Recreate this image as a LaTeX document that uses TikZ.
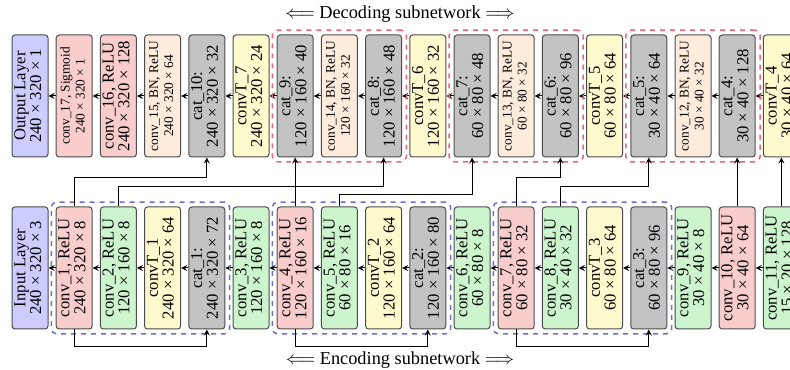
\documentclass[tikz,border=0pt]{standalone}
\usepackage{fontspec}
\setmainfont{Liberation Serif}
\usepackage{graphicx}
\usetikzlibrary{fit}

\definecolor{cIn}{RGB}{204,204,255}
\definecolor{cRelu}{RGB}{250,205,205}
\definecolor{cConv}{RGB}{205,245,205}
\definecolor{cUp}{RGB}{255,250,205}
\definecolor{cCat}{RGB}{195,195,195}
\definecolor{cBn}{RGB}{253,235,220}
\definecolor{cEnc}{RGB}{110,110,210}
\definecolor{cDec}{RGB}{235,100,120}

\newcommand{\lyrfont}{\fontsize{10}{9.5}\selectfont}
\newcommand{\lyrsmall}{\fontsize{8}{9}\selectfont}
\newcommand{\lyr}[2]{\rotatebox{90}{\begin{tabular}{@{}c@{}}#1\\#2\end{tabular}}}

\begin{document}
\begin{tikzpicture}[x=0.6pt,y=0.6pt,>=stealth,
  layer/.style={draw=black!70,line width=0.6pt,rounded corners=1.8pt,
    minimum width=21.6pt,minimum height=73.2pt,inner sep=0pt},
  link/.style={->,line width=0.6pt},
  encgrp/.style={draw=cEnc,dashed,line width=0.9pt,rounded corners=3pt,inner sep=2.6pt},
  decgrp/.style={draw=cDec,dashed,line width=0.9pt,rounded corners=3pt,inner sep=2.6pt}]
  \path[use as bounding box,clip] (0,0) rectangle (790,370);

  % decoding row (top), read right to left
  \foreach \i/\col/\fn/\ta/\tb in {
    0/cIn/\lyrfont/{Output Layer}/{240 × 320 × 1},
    1/cRelu/\lyrsmall/{conv\_17, Sigmoid}/{240 × 320 × 1},
    2/cRelu/\lyrfont/{conv\_16, ReLU}/{240 × 320 × 128},
    3/cBn/\lyrsmall/{conv\_15, BN, ReLU}/{240 × 320 × 64},
    4/cCat/\lyrfont/{cat\_10:}/{240 × 320 × 32},
    5/cUp/\lyrfont/{convT\_7}/{240 × 320 × 24},
    6/cCat/\lyrfont/{cat\_9:}/{120 × 160 × 40},
    7/cBn/\lyrsmall/{conv\_14, BN, ReLU}/{120 × 160 × 32},
    8/cCat/\lyrfont/{cat\_8:}/{120 × 160 × 48},
    9/cUp/\lyrfont/{convT\_6}/{120 × 160 × 32},
    10/cCat/\lyrfont/{cat\_7:}/{60 × 80 × 48},
    11/cBn/\lyrsmall/{conv\_13, BN, ReLU}/{60 × 80 × 32},
    12/cCat/\lyrfont/{cat\_6:}/{60 × 80 × 96},
    13/cUp/\lyrfont/{convT\_5}/{60 × 80 × 64},
    14/cCat/\lyrfont/{cat\_5:}/{30 × 40 × 64},
    15/cBn/\lyrsmall/{conv\_12, BN, ReLU}/{30 × 40 × 32},
    16/cCat/\lyrfont/{cat\_4:}/{30 × 40 × 128},
    17/cUp/\lyrfont/{convT\_4}/{30 × 40 × 64}}
    \node[layer,fill=\col,font=\fn] (d\i) at ({30+44.2*\i},274) {\lyr{\ta}{\tb}};

  % encoding row (bottom)
  \foreach \i/\col/\ta/\tb in {
    0/cIn/{Input Layer}/{240 × 320 × 3},
    1/cRelu/{conv\_1, ReLU}/{240 × 320 × 8},
    2/cConv/{conv\_2, ReLU}/{120 × 160 × 8},
    3/cUp/{convT\_1}/{240 × 320 × 64},
    4/cCat/{cat\_1:}/{240 × 320 × 72},
    5/cConv/{conv\_3, ReLU}/{120 × 160 × 8},
    6/cRelu/{conv\_4, ReLU}/{120 × 160 × 16},
    7/cConv/{conv\_5, ReLU}/{60 × 80 × 16},
    8/cUp/{convT\_2}/{120 × 160 × 64},
    9/cCat/{cat\_2:}/{120 × 160 × 80},
    10/cConv/{conv\_6, ReLU}/{60 × 80 × 8},
    11/cRelu/{conv\_7, ReLU}/{60 × 80 × 32},
    12/cConv/{conv\_8, ReLU}/{30 × 40 × 32},
    13/cUp/{convT\_3}/{60 × 80 × 64},
    14/cCat/{cat\_3:}/{60 × 80 × 96},
    15/cConv/{conv\_9, ReLU}/{30 × 40 × 8},
    16/cRelu/{conv\_10, ReLU}/{30 × 40 × 64},
    17/cConv/{conv\_11, ReLU}/{15 × 20 × 128}}
    \node[layer,fill=\col,font=\lyrfont] (e\i) at ({30+44.2*\i},102) {\lyr{\ta}{\tb}};

  \foreach \i [count=\j from 0] in {1,...,17} {
    \draw[link] (d\i) -- (d\j);
    \draw[link] (e\i) -- (e\j);
  }

  % dashed groups
  \node[encgrp,fit=(e1)(e4)] (g1) {};
  \node[encgrp,fit=(e6)(e9)] (g2) {};
  \node[encgrp,fit=(e11)(e14)] (g3) {};
  \node[decgrp,fit=(d6)(d8)] (h1) {};
  \node[decgrp,fit=(d10)(d12)] (h2) {};
  \node[decgrp,fit=(d14)(d16)] (h3) {};

  % skip connections
  \foreach \a/\b in {1/4,6/9,11/14}
    \draw[link] (e\a.south) -- ++(0,-17) -| (e\b.south);
  \foreach \a/\b/\h in {1/4/29,2/6/20,6/8/20,7/10/12,11/12/29,12/14/20}
    \draw[link] (e\a.north) -- ++(0,\h) -| (d\b.south);
  \draw[link] (e16) -- (d16);
  \draw[link] (e17) -- (d17);

  \node[font=\fontsize{11}{13}\selectfont] (dec) at (400,356) {$\Longleftarrow$ Decoding subnetwork $\Longrightarrow$};
  \node[font=\fontsize{11}{13}\selectfont] (enc) at (400,10) {$\Longleftarrow$ Encoding subnetwork $\Longrightarrow$};
\end{tikzpicture}
\end{document}
